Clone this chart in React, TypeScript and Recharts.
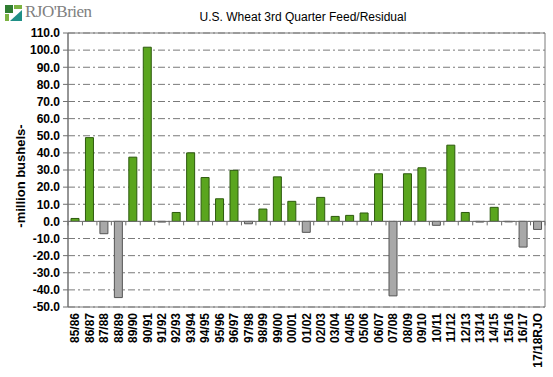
import React from 'react';
import {
  BarChart,
  Bar,
  XAxis,
  YAxis,
  CartesianGrid,
  ReferenceLine,
  ReferenceArea,
  Cell
} from 'recharts';

const seasons = [
  '85/86', '86/87', '87/88', '88/89', '89/90', '90/91', '91/92', '92/93', '93/94',
  '94/95', '95/96', '96/97', '97/98', '98/99', '99/00', '00/01', '01/02', '02/03',
  '03/04', '04/05', '05/06', '06/07', '07/08', '08/09', '09/10', '10/11', '11/12',
  '12/13', '13/14', '14/15', '15/16', '16/17', '17/18RJO'
];

const feedResidual = [
  1.7, 48.9, -7.2, -44.5, 37.5, 101.7, -0.4, 5.2, 40.0,
  25.6, 13.2, 29.8, -1.4, 7.2, 26.0, 11.7, -6.4, 14.0,
  2.9, 3.5, 4.9, 27.8, -43.5, 27.8, 31.3, -2.3, 44.5,
  5.2, -0.4, 8.2, -0.3, -15.0, -4.7
];

const yTicks = [110, 100, 90, 80, 70, 60, 50, 40, 30, 20, 10, 0, -10, -20, -30, -40, -50];

const data = seasons.map((season, i) => ({ season, value: feedResidual[i] }));

const FONT = '"Liberation Sans", Arial, sans-serif';

const SeasonTick = (props: any) => {
  const { x, y, payload } = props;
  return (
    <text
      x={x}
      y={y}
      dy={4}
      transform={`rotate(-90 ${x} ${y})`}
      textAnchor="end"
      fontSize={12}
      fontWeight="bold"
      fontFamily={FONT}
      fill="#000"
    >
      {payload.value}
    </text>
  );
};

// zero line plus the little category tick marks hanging below it
const ZeroLine = (props: any) => {
  const { x1, y1, x2 } = props;
  const n = seasons.length;
  const step = (x2 - x1) / n;
  const marks = [];
  for (let i = 0; i <= n; i++) {
    const x = x1 + i * step;
    marks.push(<line key={i} x1={x} y1={y1} x2={x} y2={y1 + 4} stroke="#6e6e6e" />);
  }
  return (
    <g>
      <line x1={x1} y1={y1} x2={x2} y2={y1} stroke="#6e6e6e" strokeWidth={1} />
      {marks}
    </g>
  );
};

const App = () => {
  return (
    <div style={{ position: 'absolute', left: 0, top: 0, width: 553, height: 377, background: '#fff' }}>
      <svg width={18} height={16} style={{ position: 'absolute', left: 5, top: 5 }}>
        <rect x={0} y={0} width={8} height={8} fill="#2f7d32" />
        <rect x={9} y={0} width={8} height={4} fill="#7cb342" />
        <rect x={0} y={9} width={4} height={7} fill="#7cb342" />
        <polygon points="5,16 17,5 17,16" fill="#1f8f86" />
      </svg>
      <div
        style={{
          position: 'absolute',
          left: 25,
          top: 2,
          fontFamily: '"Liberation Serif", serif',
          fontSize: 17,
          color: '#808080',
          letterSpacing: -0.5
        }}
      >
        RJO'Brien
      </div>
      <div
        style={{
          position: 'absolute',
          left: 0,
          width: 606,
          top: 10,
          textAlign: 'center',
          fontFamily: FONT,
          fontSize: 12,
          color: '#000'
        }}
      >
        U.S. Wheat 3rd Quarter Feed/Residual
      </div>
      <div
        style={{
          position: 'absolute',
          left: 20,
          top: 176,
          transform: 'translate(-50%, -50%) rotate(-90deg)',
          whiteSpace: 'nowrap',
          fontFamily: FONT,
          fontSize: 13,
          fontWeight: 'bold',
          color: '#000'
        }}
      >
        -million bushels-
      </div>
      <BarChart
        width={553}
        height={377}
        data={data}
        margin={{ top: 33, right: 8, bottom: 8, left: 0 }}
        barSize={8}
        style={{ position: 'absolute', left: 0, top: 0 }}
      >
        <CartesianGrid
          vertical={false}
          stroke="#7a7a7a"
          strokeDasharray="7 3 2 3"
        />
        <XAxis
          dataKey="season"
          interval={0}
          axisLine={false}
          tickLine={false}
          tickSize={0}
          tickMargin={6}
          height={62}
          tick={<SeasonTick />}
        />
        <YAxis
          width={68}
          domain={[-50, 110]}
          ticks={yTicks}
          interval={0}
          tickFormatter={(v: number) => v.toFixed(1)}
          axisLine={{ stroke: '#6e6e6e' }}
          tickLine={{ stroke: '#6e6e6e' }}
          tickSize={5}
          tickMargin={3}
          tick={{ fontSize: 12, fontWeight: 'bold', fontFamily: FONT, fill: '#000' }}
        />
        <ReferenceArea y1={-50} y2={110} fill="none" stroke="#7a7a7a" strokeWidth={1} />
        <Bar dataKey="value" isAnimationActive={false}>
          {data.map((d, i) => (
            <Cell
              key={i}
              fill={d.value >= 0 ? '#5aa51e' : '#a8a8a8'}
              stroke={d.value >= 0 ? '#2d5a0e' : '#555555'}
              strokeWidth={1}
            />
          ))}
        </Bar>
        <ReferenceLine y={0} shape={<ZeroLine />} />
      </BarChart>
    </div>
  );
};

export default App;
